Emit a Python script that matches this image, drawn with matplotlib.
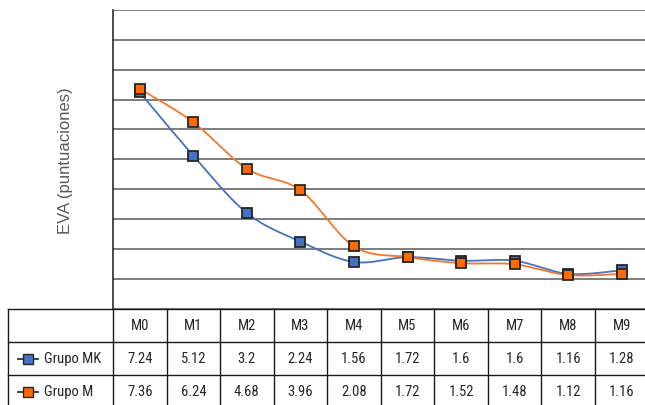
import numpy as np
import matplotlib
matplotlib.use("Agg")
import matplotlib.pyplot as plt
from matplotlib import transforms
from matplotlib.lines import Line2D
from matplotlib import font_manager

categories = ["M0", "M1", "M2", "M3", "M4", "M5", "M6", "M7", "M8", "M9"]
grupo_mk = [7.24, 5.12, 3.2, 2.24, 1.56, 1.72, 1.6, 1.6, 1.16, 1.28]
grupo_m = [7.36, 6.24, 4.68, 3.96, 2.08, 1.72, 1.52, 1.48, 1.12, 1.16]
series_names = ["Grupo MK", "Grupo M"]
y_label = "EVA (puntuaciones)"

W, H = 645, 406
fig = plt.figure(figsize=(W / 100, H / 100), dpi=100)

BLUE = "#4472C4"
ORANGE = "#FF6A00"
ORANGE_LINE = "#F5782A"
EDGE = "#262626"
GRID = "#5a5a5a"
TXT = "#262626"

# look for a condensed sans font among installed ones
names = {f.name for f in font_manager.fontManager.ttflist}
cond = [n for n in ["Liberation Sans Narrow", "Roboto Condensed", "Open Sans Condensed",
                    "DejaVu Sans Condensed", "Noto Sans Condensed"] if n in names]
cond_stretch = {}
if cond:
    narrow = [cond[0], "Liberation Sans", "DejaVu Sans"]
    tfs = 10.5
else:
    narrow = ["Liberation Sans", "DejaVu Sans"]
    tfs = 9.6

# plot area in pixels
px_left, px_right, px_top, px_bottom = 113, 648.5, 11, 309.5
ax = fig.add_axes([px_left / W, 1 - px_bottom / H,
                   (px_right - px_left) / W, (px_bottom - px_top) / H])
ax.set_xlim(-0.5, len(categories) - 0.5)
ax.set_ylim(0, 10)
ax.set_yticks(np.arange(0, 11, 1))
ax.set_yticklabels([])
ax.set_xticks([])
ax.tick_params(left=False)
ax.grid(axis="y", color=GRID, linewidth=1.1)
ax.set_axisbelow(True)
for s in ["top", "right", "bottom"]:
    ax.spines[s].set_visible(False)
ax.spines["left"].set_color("#1a1a1a")
ax.spines["left"].set_linewidth(1.1)


def smooth(xs, ys, n=30):
    pts = np.column_stack([xs, ys]).astype(float)
    P = np.vstack([pts[0], pts, pts[-1]])
    out = []
    for i in range(1, len(P) - 2):
        p0, p1, p2, p3 = P[i - 1], P[i], P[i + 1], P[i + 2]
        c1 = p1 + (p2 - p0) / 6
        c2 = p2 - (p3 - p1) / 6
        t = np.linspace(0, 1, n)[:, None]
        seg = ((1 - t) ** 3) * p1 + 3 * ((1 - t) ** 2) * t * c1 + 3 * (1 - t) * t ** 2 * c2 + t ** 3 * p2
        out.append(seg if i == 1 else seg[1:])
    return np.vstack(out)


x = np.arange(len(categories))
for vals, lc in [(grupo_mk, BLUE), (grupo_m, ORANGE_LINE)]:
    c = smooth(x, vals)
    ax.plot(c[:, 0], c[:, 1], color=lc, linewidth=1.3, zorder=3, solid_capstyle="round")
for vals, fc in [(grupo_mk, BLUE), (grupo_m, ORANGE)]:
    ax.plot(x, vals, linestyle="none", marker="s", markersize=7.8,
            markerfacecolor=fc, markeredgecolor=EDGE, markeredgewidth=1.3, zorder=4)

ax.set_ylabel(y_label, fontsize=12, color="#595959", family=["Liberation Sans", "DejaVu Sans"],
              labelpad=22)

# ---- data table ----
trans = transforms.blended_transform_factory(ax.transData, fig.transFigure)
ftrans = fig.transFigure
row_px = [310, 343, 376, 409]
fy = [1 - r / H for r in row_px]
tab_left = 8 / W
lc = "#1a1a1a"
for y in fy:
    fig.add_artist(Line2D([tab_left, 1.0], [y, y], transform=ftrans, color=lc, linewidth=1.0))
fig.add_artist(Line2D([tab_left, tab_left], [fy[0], fy[-1]], transform=ftrans, color=lc, linewidth=1.0))
for i in range(len(categories) + 1):
    xb = i - 0.5
    fig.add_artist(Line2D([xb, xb], [fy[0], fy[-1]], transform=trans, color=lc, linewidth=1.0))

cy = [(fy[k] + fy[k + 1]) / 2 for k in range(3)]
for i, cat in enumerate(categories):
    fig.text(i, cy[0], cat, transform=trans, ha="center", va="center",
             fontsize=tfs, color=TXT, family=narrow)
for k, vals in enumerate([grupo_mk, grupo_m]):
    for i, v in enumerate(vals):
        fig.text(i, cy[k + 1], f"{v:g}", transform=trans, ha="center", va="center",
                 fontsize=tfs, color=TXT, family=narrow)

for k, (name, fc) in enumerate([(series_names[0], BLUE), (series_names[1], ORANGE)]):
    y = cy[k + 1]
    fig.add_artist(Line2D([18 / W, 38 / W], [y, y], transform=ftrans, color="#333333", linewidth=1.3))
    fig.add_artist(Line2D([28 / W], [y], transform=ftrans, marker="s", markersize=6.5,
                          markerfacecolor=fc, markeredgecolor=EDGE, markeredgewidth=1.0))
    fig.text(44 / W, y, name, transform=ftrans, ha="left", va="center",
             fontsize=tfs, color=TXT, family=narrow)

fig.savefig("out.png", dpi=100)
